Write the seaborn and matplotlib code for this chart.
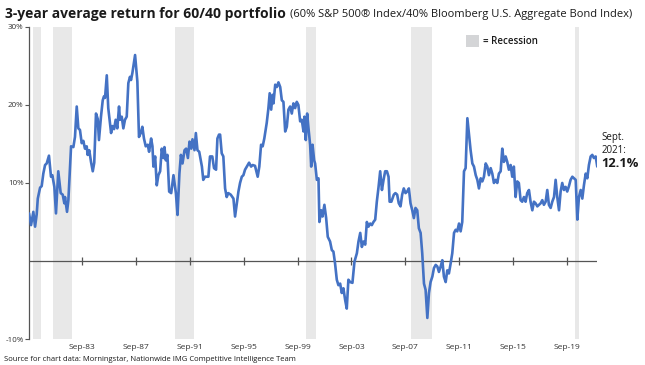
import numpy as np
import pandas as pd
import matplotlib
matplotlib.use("Agg")
import matplotlib.pyplot as plt
import seaborn as sns

# ---------------------------------- Data -----------------------------------------

years = [
    1979.74, 1979.89, 1980.06, 1980.19, 1980.31, 1980.39, 1980.56, 1980.68, 1980.80, 1980.93,
    1981.05, 1981.22, 1981.37, 1981.47, 1981.62, 1981.74, 1981.91, 1982.09, 1982.24, 1982.36,
    1982.41, 1982.56, 1982.66, 1982.86, 1983.03, 1983.15, 1983.28, 1983.40, 1983.52, 1983.65,
    1983.77, 1983.89, 1984.02, 1984.09, 1984.21, 1984.34, 1984.47, 1984.58, 1984.71, 1984.84,
    1984.93, 1985.08, 1985.21, 1985.30, 1985.38, 1985.51, 1985.62, 1985.83, 1985.92, 1986.05,
    1986.17, 1986.29, 1986.42, 1986.49, 1986.62, 1986.74, 1986.86, 1986.99, 1987.11, 1987.23,
    1987.31, 1987.41, 1987.61, 1987.78, 1987.90, 1988.03, 1988.15, 1988.27, 1988.40, 1988.55,
    1988.65, 1988.80, 1988.90, 1988.97, 1989.10, 1989.22, 1989.34, 1989.47, 1989.59, 1989.71,
    1989.79, 1989.89, 1990.01, 1990.14, 1990.29, 1990.46, 1990.64, 1990.76, 1990.90, 1991.01,
    1991.13, 1991.28, 1991.40, 1991.53, 1991.65, 1991.78, 1991.87, 1992.02, 1992.12, 1992.24,
    1992.37, 1992.57, 1992.67, 1992.80, 1993.05, 1993.17, 1993.34, 1993.47, 1993.62, 1993.72,
    1993.84, 1993.92, 1994.04, 1994.16, 1994.29, 1994.41, 1994.53, 1994.71, 1994.91, 1995.03,
    1995.16, 1995.28, 1995.40, 1995.53, 1995.65, 1995.77, 1995.90, 1996.07, 1996.22, 1996.34,
    1996.51, 1996.71, 1996.83, 1996.96, 1997.08, 1997.20, 1997.38, 1997.50, 1997.60, 1997.71,
    1997.81, 1997.88, 1998.01, 1998.13, 1998.25, 1998.38, 1998.50, 1998.62, 1998.75, 1998.87,
    1998.99, 1999.12, 1999.24, 1999.36, 1999.49, 1999.61, 1999.73, 1999.86, 1999.98, 2000.11,
    2000.18, 2000.28, 2000.38, 2000.48, 2000.60, 2000.68, 2000.78, 2000.90, 2000.97, 2001.10,
    2001.22, 2001.29, 2001.42, 2001.52, 2001.66, 2001.79, 2001.91, 2002.08, 2002.21, 2002.33,
    2002.45, 2002.58, 2002.70, 2002.83, 2002.95, 2003.07, 2003.20, 2003.32, 2003.44, 2003.57,
    2003.74, 2003.89, 2004.07, 2004.19, 2004.32, 2004.44, 2004.56, 2004.69, 2004.81, 2004.93,
    2005.06, 2005.18, 2005.30, 2005.43, 2005.55, 2005.68, 2005.80, 2005.93, 2006.05, 2006.17,
    2006.30, 2006.42, 2006.50, 2006.63, 2006.81, 2006.93, 2007.06, 2007.18, 2007.31, 2007.43,
    2007.55, 2007.68, 2007.80, 2007.93, 2008.05, 2008.18, 2008.30, 2008.42, 2008.55, 2008.67,
    2008.80, 2008.92, 2009.05, 2009.17, 2009.30, 2009.42, 2009.54, 2009.67, 2009.79, 2009.92,
    2010.04, 2010.16, 2010.29, 2010.41, 2010.53, 2010.66, 2010.78, 2010.90, 2011.03, 2011.15,
    2011.28, 2011.40, 2011.52, 2011.65, 2011.77, 2011.89, 2012.02, 2012.14, 2012.27, 2012.39,
    2012.51, 2012.64, 2012.76, 2012.89, 2013.01, 2013.13, 2013.26, 2013.38, 2013.50, 2013.63,
    2013.75, 2013.87, 2014.00, 2014.12, 2014.24, 2014.37, 2014.49, 2014.61, 2014.74, 2014.86,
    2014.98, 2015.11, 2015.23, 2015.35, 2015.48, 2015.60, 2015.72, 2015.85, 2015.97, 2016.09,
    2016.22, 2016.34, 2016.47, 2016.59, 2016.71, 2016.84, 2016.96, 2017.09, 2017.21, 2017.33,
    2017.46, 2017.58, 2017.71, 2017.83, 2017.95, 2018.08, 2018.20, 2018.32, 2018.45, 2018.57,
    2018.70, 2018.82, 2018.94, 2019.07, 2019.19, 2019.31, 2019.44, 2019.56, 2019.68, 2019.81,
    2019.93, 2020.06, 2020.18, 2020.31, 2020.43, 2020.55, 2020.68, 2020.80, 2020.92, 2021.05,
    2021.17, 2021.29, 2021.42, 2021.54, 2021.66, 2021.79, 2021.91,
]
returns = [
    6.1, 4.6, 6.3, 4.4, 6.0, 8.0, 9.4, 9.6, 11.2, 12.3,
    12.5, 13.5, 10.8, 11.0, 9.5, 6.1, 11.5, 8.7, 8.5, 7.4,
    8.2, 6.3, 7.8, 14.7, 14.6, 15.9, 19.8, 17.0, 16.8, 15.1,
    15.4, 14.4, 14.7, 13.6, 14.2, 12.7, 11.5, 12.6, 18.9, 18.2,
    15.5, 18.5, 20.6, 21.1, 20.9, 23.8, 19.6, 16.4, 17.3, 16.9,
    18.1, 17.0, 19.8, 18.1, 18.5, 17.0, 18.1, 18.5, 22.8, 23.6,
    23.2, 24.1, 26.4, 23.0, 15.9, 16.4, 17.2, 15.7, 14.7, 14.9,
    14.0, 15.7, 14.7, 12.1, 13.4, 9.7, 11.0, 11.5, 14.4, 13.2,
    14.6, 12.9, 13.6, 8.9, 8.7, 11.0, 8.7, 5.9, 11.2, 13.6,
    12.5, 14.2, 14.4, 13.2, 15.3, 14.4, 15.6, 14.2, 16.4, 14.2,
    14.0, 12.1, 10.4, 10.8, 10.8, 13.4, 13.4, 11.9, 11.7, 15.7,
    16.2, 16.2, 13.8, 13.4, 9.3, 8.2, 8.7, 8.5, 8.0, 5.7,
    7.4, 8.9, 10.0, 10.8, 11.0, 11.7, 12.1, 12.6, 12.1, 12.3,
    12.2, 10.8, 12.1, 14.9, 14.7, 15.7, 17.7, 19.5, 21.5, 19.4,
    21.3, 20.2, 22.6, 22.3, 22.9, 22.3, 20.6, 20.4, 16.6, 17.2,
    19.4, 19.8, 18.9, 20.2, 19.6, 20.4, 20.0, 17.9, 18.1, 16.6,
    18.5, 15.5, 18.9, 17.0, 14.9, 12.1, 14.9, 12.9, 12.5, 10.4,
    10.6, 5.0, 6.5, 5.7, 7.2, 5.5, 3.1, 2.5, 1.4, 1.2,
    -0.3, -2.4, -3.1, -2.9, -4.1, -3.5, -5.0, -6.1, -2.4, -2.7,
    -2.8, -0.1, 1.0, 2.5, 3.6, 1.8, 2.5, 2.1, 5.0, 4.4,
    4.8, 4.6, 5.0, 5.3, 7.6, 9.5, 11.5, 9.1, 10.4, 11.5,
    11.5, 10.8, 7.6, 7.6, 8.5, 8.7, 8.5, 7.4, 7.0, 8.5,
    9.3, 8.7, 8.9, 9.3, 7.4, 6.5, 5.5, 6.8, 6.5, 4.2,
    3.6, 1.0, -2.9, -3.7, -7.3, -4.1, -2.7, -2.0, -0.9, -0.5,
    -0.7, -1.4, -0.7, 0.1, -2.0, -2.7, -1.2, -1.6, -0.3, 1.0,
    3.6, 4.0, 3.8, 4.8, 3.8, 5.0, 11.5, 11.9, 18.3, 16.2,
    14.2, 12.5, 12.1, 11.0, 10.4, 9.3, 10.6, 10.2, 10.8, 12.5,
    12.1, 11.0, 11.9, 11.2, 10.0, 10.4, 10.0, 11.2, 11.5, 14.4,
    12.7, 13.4, 12.7, 11.7, 12.3, 10.8, 12.1, 8.2, 10.2, 10.0,
    7.8, 7.6, 8.2, 7.6, 8.7, 9.1, 7.6, 6.5, 7.6, 7.4,
    7.0, 7.2, 7.4, 7.8, 7.2, 7.6, 9.1, 7.2, 6.8, 7.6,
    8.2, 10.4, 8.2, 6.5, 8.9, 10.0, 9.1, 9.5, 8.9, 9.6,
    10.4, 10.8, 10.6, 10.4, 5.3, 8.2, 9.1, 8.0, 9.7, 11.2,
    10.6, 12.3, 13.4, 13.6, 13.2, 13.4, 12.1,
]

# recession periods (decimal years)
rec_start = [1980.04, 1981.54, 1990.58, 2000.31, 2008.10, 2020.25]
rec_end = [1980.61, 1982.90, 1991.97, 2001.03, 2009.68, 2020.55]

tick_years = [1983.67, 1987.67, 1991.67, 1995.67, 1999.67, 2003.67, 2007.67, 2011.67, 2015.67, 2019.67]
tick_labels = ["Sep-83", "Sep-87", "Sep-91", "Sep-95", "Sep-99", "Sep-03", "Sep-07", "Sep-11", "Sep-15", "Sep-19"]

y_ticks = [30, 20, 10, -10]
y_labels = ["30%", "20%", "10%", "-10%"]

df = pd.DataFrame({"year": years, "ret": returns})

# ---------------------------------- Plot -----------------------------------------

sns.set_style("white")
plt.rcParams["font.family"] = ["Open Sans", "DejaVu Sans"]

fig = plt.figure(figsize=(6.45, 3.65), dpi=100)
ax = fig.add_axes([0.045, 0.0712, 0.881, 0.855])

for s, e in zip(rec_start, rec_end):
    ax.axvspan(s, e, color="#e8e8e8", lw=0, zorder=0)

ax.axhline(0, color="#555555", lw=0.9, zorder=1)
ax.plot(tick_years, [0] * len(tick_years), ls="none", marker="|", ms=6, mew=0.9, color="#555555", zorder=1)

sns.lineplot(data=df, x="year", y="ret", ax=ax, color="#4472c4", linewidth=1.9, zorder=3)

ax.set_xlim(years[0], years[-1])
ax.set_ylim(-10, 30)
ax.set_xlabel("")
ax.set_ylabel("")

ax.set_xticks(tick_years)
ax.set_xticklabels(tick_labels, fontsize=6.0, color="#333333")
ax.set_yticks(y_ticks)
ax.set_yticklabels(y_labels, fontsize=5.8, color="#333333")
ax.tick_params(axis="x", length=0, pad=3.5)
ax.tick_params(axis="y", length=3, width=0.8, color="#555555", pad=1, left=True)

for sp in ["top", "right", "bottom"]:
    ax.spines[sp].set_visible(False)
ax.spines["left"].set_color("#555555")
ax.spines["left"].set_linewidth(0.9)

# title: bold part, then the index description right after it
t1 = fig.text(0.008, 0.962, "3-year average return for 60/40 portfolio", fontsize=10,
              fontweight="bold", color="#1a1a1a", va="center", ha="left")
fig.canvas.draw()
bb = t1.get_window_extent(fig.canvas.get_renderer()).transformed(fig.transFigure.inverted())
fig.text(bb.x1 + 0.006, 0.960, "(60% S&P 500\u00ae Index/40% Bloomberg U.S. Aggregate Bond Index)",
         fontsize=8.0, color="#1a1a1a", va="center", ha="left")

# legend
ax.add_patch(plt.Rectangle((0.7225, 0.871), 0.0194, 0.033, transform=fig.transFigure,
                           facecolor="#d4d5d7", edgecolor="none", clip_on=False))
fig.text(0.749, 0.887, "= Recession", fontsize=7, color="#1a1a1a", va="center", ha="left",
         fontweight="semibold")

# end annotation
fig.text(0.932, 0.622, "Sept.", fontsize=7, color="#1a1a1a", va="center", ha="left", fontweight="medium")
fig.text(0.932, 0.589, "2021:", fontsize=7, color="#1a1a1a", va="center", ha="left", fontweight="medium")
fig.text(0.932, 0.551, "12.1%", fontsize=9.3, fontweight="bold", color="#1a1a1a", va="center", ha="left")

# source
fig.text(0.006, 0.014, "Source for chart data: Morningstar, Nationwide IMG Competitive Intelligence Team",
         fontsize=5.5, color="#1a1a1a", va="center", ha="left")

fig.savefig("out.png", dpi=100)
